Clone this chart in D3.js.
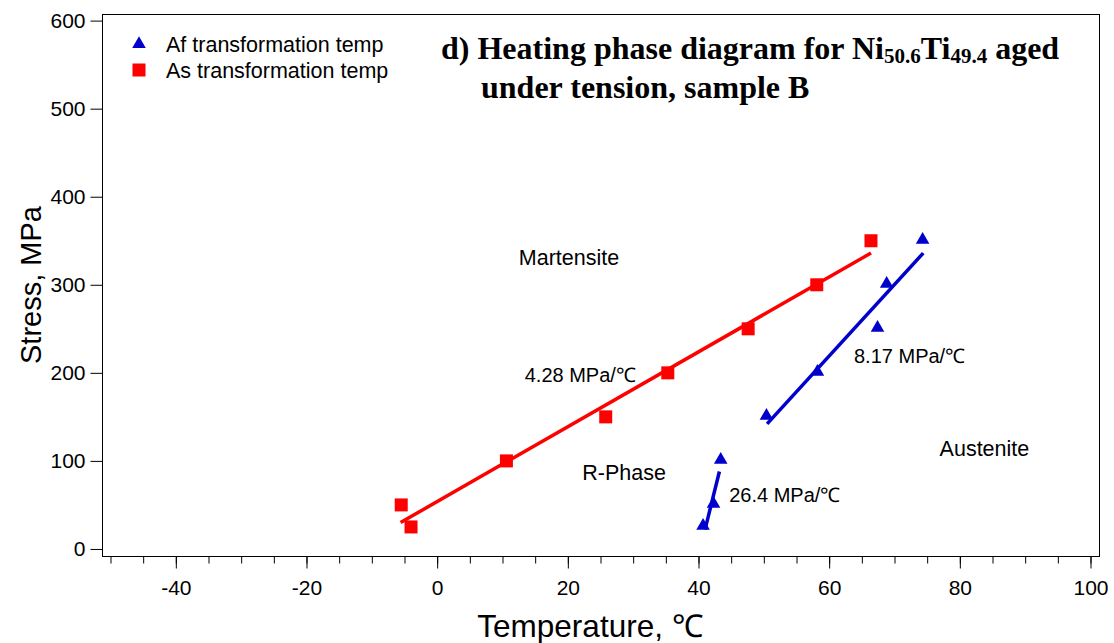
<!DOCTYPE html>
<html>
<head>
<meta charset="utf-8">
<script src="https://cdn.jsdelivr.net/npm/d3@7"></script>
<style>
  body { margin: 0; background: #fff; }
  svg { display: block; }
</style>
</head>
<body>
<svg id="chart" width="1114" height="643" font-family="Liberation Sans, Arial, Helvetica, sans-serif"></svg>
<script>
// Af transformation temp (blue triangles)
var afTemp   = [40.7, 42.3, 43.4, 50.4, 58.2, 67.4, 68.8, 74.3];
var afStress = [25, 50, 100, 150, 200, 250, 300, 350];
// As transformation temp (red squares)
var asTemp   = [-5.5, -4.0, 10.6, 25.8, 35.3, 47.6, 58.1, 66.4];
var asStress = [50, 25, 100, 150, 200, 250, 300, 350];

// linear fits, endpoints [temp, stress]
var asFit   = [[-5.6, 30], [66.4, 336]];
var afFitHi = [[50.5, 142], [74.4, 336]];
var afFitLo = [[41.0, 22], [43.2, 88]];

var xTicks = [-40, -20, 0, 20, 40, 60, 80, 100];
var yTicks = [0, 100, 200, 300, 400, 500, 600];

var regionLabels = ["Martensite", "R-Phase", "Austenite"];
var regionTemp   = [12.5, 22.2, 76.9];
var regionStress = [322, 78, 106];

var slopeLabels = ["4.28 MPa/\u2103", "8.17 MPa/\u2103", "26.4 MPa/\u2103"];
var slopeTemp   = [13.4, 63.8, 44.7];
var slopeStress = [190, 211, 53];

var legendNames = ["Af transformation temp", "As transformation temp"];

var svg = d3.select("#chart");
var mLeft = 102, mRight = 1099, mTop = 14, mBottom = 556;

var x = d3.scaleLinear().domain([-51.3, 101.3]).range([mLeft, mRight]);
var y = d3.scaleLinear().domain([-8, 607.5]).range([mBottom, mTop]);

var red = "#ff0000", blue = "#0000cc";

// frame
svg.append("rect")
    .attr("x", mLeft + 0.5).attr("y", mTop + 0.5)
    .attr("width", mRight - mLeft).attr("height", mBottom - mTop)
    .attr("fill", "none").attr("stroke", "#000").attr("stroke-width", 1);

function styleTicks(g) {
  g.select(".domain").remove();
  g.attr("font-family", null).attr("font-size", 21);
  g.selectAll("text").attr("fill", "#000");
}

// x axis: minor then major
var minor = d3.range(-50, 101, 5);
svg.append("g")
    .attr("transform", "translate(0," + (mBottom + 0.5) + ")")
    .call(d3.axisBottom(x).tickValues(minor).tickSize(7).tickFormat(""))
    .call(styleTicks);
svg.append("g")
    .attr("transform", "translate(0," + (mBottom + 0.5) + ")")
    .call(d3.axisBottom(x).tickValues(xTicks).tickSize(12).tickPadding(12).tickFormat(function(d) { return String(d); }))
    .call(styleTicks);

// y axis
svg.append("g")
    .attr("transform", "translate(" + (mLeft + 0.5) + ",0)")
    .call(d3.axisLeft(y).tickValues(yTicks).tickSize(12).tickPadding(5).tickFormat(function(d) { return String(d); }))
    .call(styleTicks);

// axis titles
svg.append("text")
    .attr("x", 590).attr("y", 637)
    .attr("text-anchor", "middle").attr("font-size", 31.5)
    .text("Temperature, \u2103");
svg.append("text")
    .attr("transform", "translate(41,285) rotate(-90)")
    .attr("text-anchor", "middle").attr("font-size", 29)
    .text("Stress, MPa");

// fit lines
var line = d3.line().x(function(d) { return x(d[0]); }).y(function(d) { return y(d[1]); });
svg.append("path").attr("d", line(asFit)).attr("stroke", red).attr("stroke-width", 3.5).attr("fill", "none");
svg.append("path").attr("d", line(afFitHi)).attr("stroke", blue).attr("stroke-width", 3.5).attr("fill", "none");
svg.append("path").attr("d", line(afFitLo)).attr("stroke", blue).attr("stroke-width", 3.5).attr("fill", "none");

// markers
var sq = 13;
svg.append("g").selectAll("rect")
    .data(d3.zip(asTemp, asStress))
    .enter().append("rect")
    .attr("x", function(d) { return x(d[0]) - sq / 2; })
    .attr("y", function(d) { return y(d[1]) - sq / 2; })
    .attr("width", sq).attr("height", sq)
    .attr("fill", red);

var tri = d3.symbol().type(d3.symbolTriangle).size(80);
svg.append("g").selectAll("path")
    .data(d3.zip(afTemp, afStress))
    .enter().append("path")
    .attr("d", tri)
    .attr("transform", function(d) { return "translate(" + x(d[0]) + "," + (y(d[1]) - 1) + ")"; })
    .attr("fill", blue);

// legend
var lg = svg.append("g");
lg.append("path").attr("d", tri).attr("transform", "translate(139,44)").attr("fill", blue);
lg.append("rect").attr("x", 139 - sq / 2).attr("y", 70 - sq / 2).attr("width", sq).attr("height", sq).attr("fill", red);
lg.selectAll("text").data(legendNames).enter().append("text")
    .attr("x", 166).attr("y", function(d, i) { return 52 + i * 26; })
    .attr("font-size", 21.5)
    .text(function(d) { return d; });

// region labels
svg.append("g").selectAll("text")
    .data(d3.zip(regionLabels, regionTemp, regionStress))
    .enter().append("text")
    .attr("x", function(d) { return x(d[1]); })
    .attr("y", function(d) { return y(d[2]); })
    .attr("font-size", 21.5)
    .text(function(d) { return d[0]; });

// slope labels
svg.append("g").selectAll("text")
    .data(d3.zip(slopeLabels, slopeTemp, slopeStress))
    .enter().append("text")
    .attr("x", function(d) { return x(d[1]); })
    .attr("y", function(d) { return y(d[2]); })
    .attr("font-size", 20)
    .text(function(d) { return d[0]; });

// title
var title = svg.append("text")
    .attr("font-family", "Liberation Serif, Times New Roman, serif")
    .attr("font-weight", "bold").attr("font-size", 32);
var t1 = title.append("tspan").attr("x", 441).attr("y", 59);
t1.append("tspan").text("d) Heating phase diagram for Ni");
t1.append("tspan").attr("font-size", 21).attr("dy", 4).text("50.6");
t1.append("tspan").attr("dy", -4).text("Ti");
t1.append("tspan").attr("font-size", 21).attr("dy", 4).text("49.4");
t1.append("tspan").attr("dy", -4).text(" aged");
title.append("tspan").attr("x", 481).attr("y", 98).text("under tension, sample B");
</script>
</body>
</html>
